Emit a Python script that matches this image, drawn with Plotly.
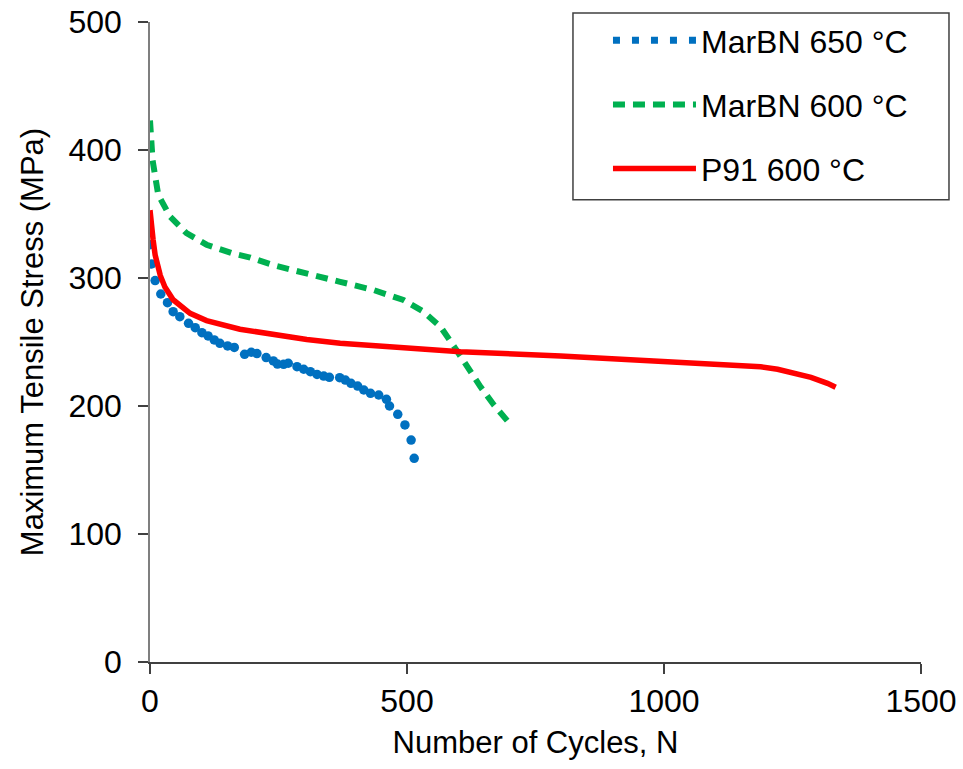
import plotly.graph_objects as go

# MarBN 650 °C (dotted series)
marbn650_n = [0, 3, 10, 21, 34, 45, 58, 75, 88, 101, 113, 125, 136, 151, 164, 184, 197, 208,
              226, 240, 248, 260, 269, 286, 299, 312, 325, 338, 349, 369, 380, 391, 404, 416,
              429, 445, 460, 466, 482, 496, 508, 514]
marbn650_s = [326, 311, 298, 287.5, 280.7, 273.7, 269.8, 264.6, 261.2, 257.3, 254.7, 251.6, 249,
              246.9, 245.8, 240.4, 242, 241, 237.8, 235.2, 232.8, 232.6, 233.4, 230.7, 228.7,
              226.8, 224.7, 223.4, 222.4, 222.1, 220.3, 217.7, 215.6, 212.5, 209.9, 208.6,
              205.2, 200, 193.5, 185.2, 173.4, 159.1]

# MarBN 600 °C (dashed series)
marbn600_n = [0, 5, 16, 39, 71, 110, 162, 195, 240, 305, 370, 435, 493, 532, 565, 594, 620, 643, 669, 705]
marbn600_s = [423, 392, 365, 348, 335, 326, 319, 316, 310, 304, 297, 290.6, 282.8, 273.7, 262, 245,
              228, 215, 200.8, 183.8]

# P91 600 °C (solid series)
p91_n = [0, 2, 6, 10, 16, 20, 29, 45, 78, 110, 175, 240, 305, 370, 435, 500, 604, 799, 864, 929,
         994, 1058, 1124, 1188, 1221, 1253, 1286, 1318, 1334]
p91_s = [353, 342, 330, 318, 309, 302, 293, 283, 272.4, 266.7, 260, 255.5, 252, 249, 247, 245,
         242.4, 239.1, 237.8, 235.9, 235.2, 233.8, 232.5, 230.7, 228.7, 226, 222.4, 217.7, 214.6]

x_ticks = [0, 500, 1000, 1500]
y_ticks = [0, 100, 200, 300, 400, 500]

FONT = "Liberation Sans, Arial, sans-serif"
FS = 32

fig = go.Figure()

# blue data drawn as dots, legend entry as dotted line
fig.add_trace(go.Scatter(x=marbn650_n, y=marbn650_s, mode="markers",
                         marker=dict(color="#0070C0", size=9.5),
                         showlegend=False, legendgroup="a"))
fig.add_trace(go.Scatter(x=[None], y=[None], mode="lines", name="MarBN 650 °C",
                         line=dict(color="#0070C0", width=7, dash="7px,12px"),
                         legendgroup="a"))
fig.add_trace(go.Scatter(x=marbn600_n, y=marbn600_s, mode="lines", name="MarBN 600 °C",
                         line=dict(color="#00B050", width=6, dash="12px,8px"),
                         legendgroup="b"))
fig.add_trace(go.Scatter(x=p91_n, y=p91_s, mode="lines", name="P91 600 °C",
                         line=dict(color="#FF0000", width=5.5),
                         legendgroup="c"))

fig.update_layout(
    width=963, height=769,
    margin=dict(l=150, r=42, t=22, b=106.5, autoexpand=False),
    paper_bgcolor="white", plot_bgcolor="white",
    font=dict(family=FONT, size=FS, color="#000000"),
    showlegend=True,
    legend=dict(x=0.594, y=1.0141, xanchor="left", yanchor="top",
                borderwidth=0, bgcolor="rgba(0,0,0,0)",
                font=dict(family=FONT, size=FS, color="#000000"),
                tracegroupgap=19.5, itemwidth=83, traceorder="grouped"),
    # legend frame
    shapes=[dict(type="rect", xref="paper", yref="paper", x0=0.5486, x1=1.0363,
                 y0=0.7221, y1=1.0141, line=dict(color="#404040", width=1.5),
                 fillcolor="white", layer="below")],
)
fig.update_xaxes(range=[0, 1500], tickvals=x_ticks, ticks="outside", ticklen=10,
                 tickcolor="#404040", tickwidth=1.5, showline=True, linecolor="#404040",
                 linewidth=1.5, showgrid=False, zeroline=False, automargin=False,
                 tickfont=dict(size=FS), ticklabeloverflow="allow",
                 title=dict(text="Number of Cycles, N", standoff=13,
                            font=dict(size=31, family=FONT)),
                 ticklabelstandoff=0)
fig.update_yaxes(range=[0, 500], tickvals=y_ticks, ticks="outside", ticklen=10,
                 tickcolor="#404040", tickwidth=1.5, showline=True, linecolor="#7f7f7f",
                 linewidth=1.5, showgrid=False, zeroline=False, automargin=False,
                 tickfont=dict(size=FS), ticklabeloverflow="allow",
                 title=dict(text="Maximum Tensile Stress (MPa)", standoff=16,
                            font=dict(size=31, family=FONT)),
                 ticklabelstandoff=10)

# remove the browser's default 8px body margin so the figure fills the window exactly
fig.write_html("out.html", config={"displayModeBar": False},
               post_script="document.body.style.margin='0px';")
